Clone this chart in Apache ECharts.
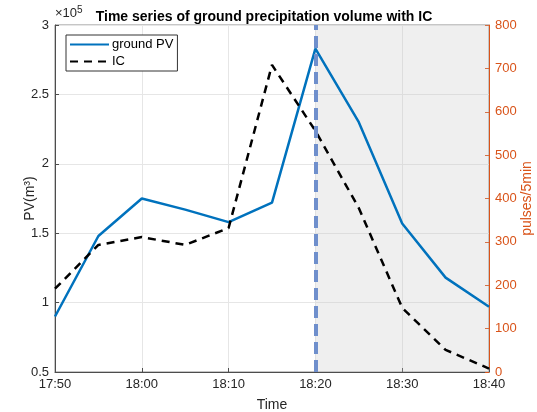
<!DOCTYPE html>
<html>
<head>
<meta charset="utf-8">
<script src="https://cdn.jsdelivr.net/npm/echarts@6/dist/echarts.min.js"></script>
<style>
  html, body { margin: 0; padding: 0; background: #fff; }
  #chart { width: 537px; height: 412px; }
</style>
</head>
<body>
<div id="chart"></div>
<script>
// 时间轴 (5 分钟间隔)
let times = ['17:50', '17:55', '18:00', '18:05', '18:10', '18:15', '18:20', '18:25', '18:30', '18:35', '18:40'];
// 地面降水量 PV, 单位 x10^5 m3
let pvValues = [0.90, 1.48, 1.75, 1.67, 1.58, 1.72, 2.83, 2.30, 1.57, 1.18, 0.97];
// IC 闪电 pulses/5min
let icValues = [192, 293, 311, 293, 332, 708, 556, 378, 148, 51, 8];
let pvTicks = [0.5, 1, 1.5, 2, 2.5, 3];
let icTicks = [0, 100, 200, 300, 400, 500, 600, 700, 800];
let markTime = '18:20';

let font = 'Liberation Sans, Arial, sans-serif';
let txt = '#262626';
let orange = '#d95319';

let mychart = echarts.init(document.getElementById('chart'));
let options = {
    animation: false,
    textStyle: { fontFamily: font },
    title: {
        text: 'Time series of ground precipitation volume with IC',
        left: 259,
        textAlign: 'center',
        top: 5,
        textStyle: { fontSize: 14, fontWeight: 'bold', color: '#000', fontFamily: font }
    },
    graphic: [{
        type: 'text',
        left: 55,
        top: 5,
        style: {
            text: '×10{s|5}',
            font: '13px ' + font,
            fill: txt,
            rich: { s: { fontSize: 10, verticalAlign: 'top', padding: [0, 0, 6, 0], fill: txt } }
        }
    }],
    grid: {
        left: 55, right: 48, top: 25, bottom: 40,
        outerBoundsMode: 'none',
        containLabel: false,
        show: true, borderColor: '#8c8c8c', borderWidth: 1
    },
    legend: {
        orient: 'vertical',
        left: 66,
        top: 35,
        itemWidth: 39,
        itemHeight: 12,
        itemGap: 4,
        padding: [3, 4, 3, 3],
        borderColor: '#333',
        borderWidth: 1,
        backgroundColor: '#fff',
        itemStyle: { opacity: 0 },
        textStyle: { fontSize: 13, color: '#000', fontFamily: font, padding: [0, 0, 0, -2] },
        data: ['ground PV', 'IC']
    },
    xAxis: {
        type: 'category',
        data: times,
        boundaryGap: false,
        name: 'Time',
        nameLocation: 'middle',
        nameGap: 26,
        nameTextStyle: { fontSize: 14, color: txt },
        axisLine: { lineStyle: { color: '#4d4d4d' } },
        axisTick: { inside: true, length: 4, interval: 1, lineStyle: { color: '#4d4d4d' } },
        axisLabel: { interval: 1, fontSize: 13, color: txt, margin: 6 },
        splitLine: { show: true, interval: 1, lineStyle: { color: '#e6e6e6' } }
    },
    yAxis: [{
        type: 'value',
        min: pvTicks[0],
        max: pvTicks[pvTicks.length - 1],
        interval: 0.5,
        name: 'PV(m³)',
        nameLocation: 'middle',
        nameGap: 18,
        nameMoveOverlap: false,
        nameTextStyle: { fontSize: 14, color: txt },
        axisLine: { show: true, lineStyle: { color: '#4d4d4d' } },
        axisTick: { show: true, inside: true, length: 4, lineStyle: { color: '#4d4d4d' } },
        axisLabel: { fontSize: 13, color: txt, margin: 6 },
        splitLine: { show: true, lineStyle: { color: '#e6e6e6' } }
    }, {
        type: 'value',
        min: icTicks[0],
        max: icTicks[icTicks.length - 1],
        interval: 100,
        position: 'right',
        name: 'pulses/5min',
        nameLocation: 'middle',
        nameGap: 31,
        nameRotate: 90,
        nameMoveOverlap: false,
        nameTextStyle: { fontSize: 14, color: orange },
        axisLine: { show: true, lineStyle: { color: orange } },
        axisTick: { show: true, inside: true, length: 4, lineStyle: { color: orange } },
        axisLabel: { fontSize: 13, color: orange, margin: 6 },
        splitLine: { show: false }
    }],
    series: [{
        name: 'ground PV',
        type: 'line',
        data: pvValues,
        yAxisIndex: 0,
        symbol: 'none',
        z: 2,
        lineStyle: { color: '#0072bd', width: 2.5 },
        itemStyle: { color: '#0072bd' }
    }, {
        name: 'IC',
        type: 'line',
        data: icValues,
        yAxisIndex: 1,
        symbol: 'none',
        z: 2,
        lineStyle: { color: '#000', width: 2.5, type: [8, 6] },
        itemStyle: { color: '#000' }
    }, {
        // 阴影区域 (盖在曲线上)
        type: 'line',
        data: [],
        z: 5,
        markArea: {
            silent: true,
            itemStyle: { color: 'rgba(195,195,195,0.27)' },
            data: [[{ xAxis: markTime }, { xAxis: times[times.length - 1] }]]
        }
    }, {
        type: 'line',
        data: [],
        z: 6,
        markLine: {
            silent: true,
            symbol: 'none',
            label: { show: false },
            lineStyle: { color: '#6f8fcc', width: 4, type: [12, 6] },
            data: [{ xAxis: markTime }]
        }
    }]
};
mychart.setOption(options);
</script>
</body>
</html>
